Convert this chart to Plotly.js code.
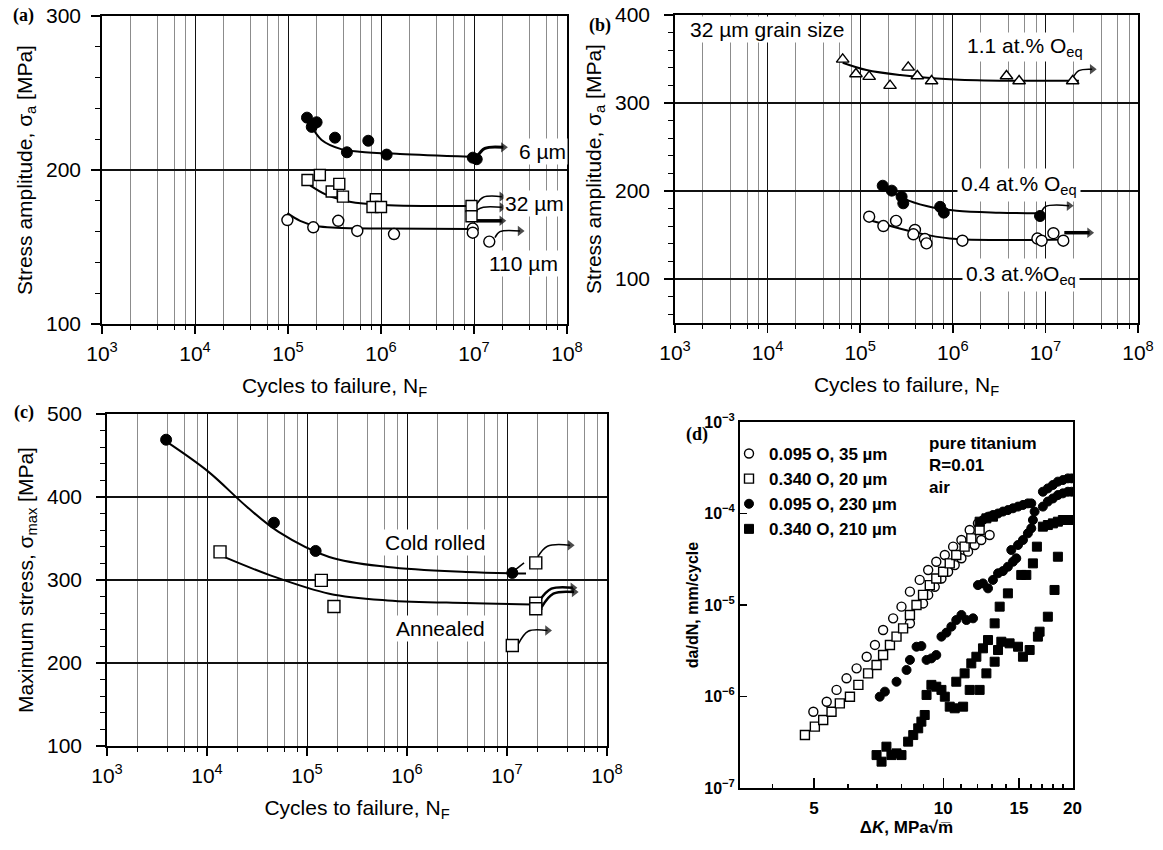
<!DOCTYPE html>
<html>
<head>
<meta charset="utf-8">
<script src="https://cdn.plot.ly/plotly-3.0.1.min.js"></script>
<style>html,body{margin:0;padding:0;background:#fff;}#chart{width:1163px;height:850px;}</style>
</head>
<body>
<div id="chart"></div>
<script>
// ---------- Panel (a): grain size ----------
const a6_N = [1.6e5, 2.03e5, 1.8e5, 3.2e5, 4.3e5, 7.3e5, 1.15e6, 9.7e6, 1.07e7];
const a6_S = [234, 231, 228, 221, 211.5, 219, 210, 208, 207];
const a6_fitN = [1.73e5, 2.3e5, 3.8e5, 5.9e5, 1.6e6, 9.06e6];
const a6_fitS = [230, 219.5, 213.4, 211.9, 210.4, 208.6];
const a32_N = [1.62e5, 2.2e5, 2.95e5, 3.56e5, 3.9e5, 8.8e5, 8.1e5, 1.0e6, 9.4e6, 9.4e6];
const a32_S = [193.5, 196.8, 186, 191, 182.7, 181, 176, 176, 176.6, 170];
const a32_fitN = [1.73e5, 2.6e5, 4.6e5, 1.06e6, 9.06e6];
const a32_fitS = [190, 183.8, 179.4, 177.3, 176.6];
const a110_N = [9.85e4, 1.87e5, 3.47e5, 5.56e5, 1.38e6, 9.7e6, 9.7e6, 1.46e7];
const a110_S = [167.5, 162.8, 167, 160.4, 158.4, 162, 159.3, 153.5];
const a110_fitN = [9.85e4, 1.35e5, 2.03e5, 3.3e5, 1.06e6, 9.06e6];
const a110_fitS = [172, 167, 163.6, 162.5, 162, 161.7];
// run-out arrows (a)
const a_arrows = [
  {N: [1.07e7, 1.31e7, 2.07e7], S: [208.2, 214, 214.7], w: 3},
  {N: [1.07e7, 1.26e7, 1.99e7], S: [177.9, 182.3, 182.7], w: 1.5},
  {N: [1.07e7, 1.26e7, 1.99e7], S: [174, 175.8, 175.8], w: 1.5},
  {N: [1.07e7, 1.99e7], S: [167, 167], w: 3.5},
  {N: [1.68e7, 1.9e7, 3.13e7], S: [156.1, 160, 160.4], w: 1.5}
];

// ---------- Panel (b): oxygen content, 32 um ----------
const b11_N = [6.47e4, 9.0e4, 1.25e5, 2.1e5, 3.3e5, 4.14e5, 5.9e5, 3.8e6, 5.2e6, 1.97e7];
const b11_S = [349.6, 333, 330, 319.7, 340.5, 330.7, 325, 330.7, 325, 325];
const b11_fitN = [6.47e4, 1.17e5, 2.7e5, 9.3e5, 3.2e6, 2.3e7];
const b11_fitS = [345.8, 337.5, 331.8, 327, 325.4, 325.4];
const b04_N = [1.75e5, 2.19e5, 2.8e5, 2.92e5, 7.3e5, 8.0e5, 8.75e6];
const b04_S = [206, 200.4, 193.5, 186, 182, 175.4, 171.6];
const b04_fitN = [1.78e5, 2.92e5, 5.2e5, 1.1e6, 3.2e6, 8.7e6];
const b04_fitS = [205, 191.7, 183, 177.6, 175.4, 174.6];
const b03_N = [1.25e5, 1.78e5, 2.44e5, 3.9e5, 3.75e5, 5.0e5, 5.2e5, 1.27e6, 8.2e6, 9.1e6, 1.22e7, 1.56e7];
const b03_S = [170.8, 160.2, 166, 155.7, 150.8, 145.5, 140.5, 143.5, 146, 143.5, 152, 143.5];
const b03_fitN = [1.25e5, 1.93e5, 4.07e5, 9.3e5, 3.2e6, 1.7e7];
const b03_fitS = [167, 161.4, 152.6, 146, 144.3, 145];
const b_arrows = [
  {N: [1.97e7, 2.3e7, 3.2e7], S: [328, 336.7, 338.3], w: 1.5},
  {N: [9.0e6, 1.0e7, 1.8e7], S: [175, 182.2, 183.3], w: 1.5},
  {N: [1.6e7, 3.0e7], S: [152.6, 152.6], w: 3.5}
];

// ---------- Panel (c): cold rolled vs annealed ----------
const cCR_N = [3.9e3, 4.67e4, 1.22e5, 1.13e7];
const cCR_S = [469, 369, 335, 308.5];
const cCR_fitN = [3.9e3, 1.03e4, 2.5e4, 5.2e4, 1.67e5, 6.4e5, 3.9e6, 1.55e7];
const cCR_fitS = [467, 430.6, 388.3, 358, 327.8, 315.7, 309.7, 307.7];
const cAN_N = [1.35e4, 1.39e5, 1.86e5, 1.94e7, 1.94e7, 1.94e7, 1.13e7];
const cAN_S = [333.9, 299.6, 268, 320.6, 272, 265.3, 221];
const cAN_fitN = [1.48e4, 4.3e4, 1.67e5, 6.4e5, 3.9e6, 1.78e7];
const cAN_fitS = [327.8, 305.6, 283.5, 275.4, 272.2, 270.6];
const c_arrows = [
  {N: [1.19e7, 1.48e7], S: [311.7, 320.6], w: 1.5, head: false},
  {N: [2.03e7, 2.54e7, 4.28e7], S: [327.8, 340.7, 341.9], w: 1.5},
  {N: [2.12e7, 2.78e7, 4.56e7], S: [275.4, 289.5, 290.7], w: 2.5},
  {N: [2.22e7, 2.91e7, 4.69e7], S: [267.3, 283.5, 285.5], w: 2.5},
  {N: [1.3e7, 1.63e7, 2.54e7], S: [223, 238.3, 239.1], w: 1.5}
];

// ---------- Panel (d): crack growth ----------
const d35_K = [4.98, 5.35, 5.64, 5.95, 6.28, 6.63, 6.93, 7.24, 7.64, 7.99, 8.36, 8.81, 9.22, 9.63, 10.08, 10.54, 11.02, 11.52, 12.04, 8.36, 8.97, 9.22, 9.55, 9.90, 10.26, 10.63, 11.02, 11.42, 11.83, 12.26, 12.82];
const d35_R = [6.82e-7, 8.77e-7, 1.18e-6, 1.58e-6, 2.03e-6, 2.72e-6, 3.66e-6, 5.33e-6, 7.15e-6, 9.59e-6, 1.40e-5, 1.88e-5, 2.41e-5, 2.97e-5, 3.52e-5, 4.34e-5, 5.13e-5, 6.61e-5, 7.80e-5, 6.31e-6, 1.04e-5, 1.29e-5, 1.58e-5, 1.95e-5, 2.31e-5, 2.73e-5, 3.24e-5, 3.83e-5, 4.53e-5, 5.13e-5, 5.82e-5];
const d20_K = [4.76, 5.02, 5.25, 5.49, 5.74, 6.06, 6.34, 6.68, 6.99, 7.24, 7.51, 7.78, 8.06, 8.36, 8.66, 8.97, 9.30, 9.63, 9.99, 10.35, 10.72, 11.21, 11.62, 12.15];
const d20_R = [3.79e-7, 4.68e-7, 5.53e-7, 6.82e-7, 8.41e-7, 9.95e-7, 1.34e-6, 1.79e-6, 2.21e-6, 2.84e-6, 3.66e-6, 4.51e-6, 5.56e-6, 7.78e-6, 1.00e-5, 1.29e-5, 1.65e-5, 1.95e-5, 2.31e-5, 2.85e-5, 3.52e-5, 4.34e-5, 5.35e-5, 6.61e-5];
const d230_K = [7.11, 7.31, 7.78, 8.21, 8.36, 8.66, 8.89, 9.14, 9.38, 9.63, 9.90, 10.17, 10.44, 10.72, 11.02, 11.32, 11.73, 12.04, 12.37, 12.71, 13.05, 13.41, 13.77, 14.14, 14.53, 14.79, 14.40, 14.93, 15.33, 15.74, 16.03, 16.17, 16.32, 16.03, 12.37, 12.71, 13.05, 13.41, 13.77, 14.14, 14.53, 14.93, 15.33, 15.74, 17.06, 17.52, 18.00, 18.49, 18.99, 19.51, 19.9, 17.06, 17.52, 18.00, 18.49, 18.99, 19.51, 19.9];
const d230_R = [9.95e-7, 1.13e-6, 1.45e-6, 1.95e-6, 2.51e-6, 3.50e-6, 3.56e-6, 2.51e-6, 2.61e-6, 2.84e-6, 4.51e-6, 4.99e-6, 5.80e-6, 6.85e-6, 7.78e-6, 6.85e-6, 7.15e-6, 1.65e-5, 1.72e-5, 1.52e-5, 1.88e-5, 2.22e-5, 2.35e-5, 2.62e-5, 2.97e-5, 3.24e-5, 3.99e-5, 4.53e-5, 5.13e-5, 6.07e-5, 6.89e-5, 8.49e-5, 1.05e-4, 1.29e-4, 8.49e-5, 9.23e-5, 9.62e-5, 1.00e-4, 1.05e-4, 1.09e-4, 1.14e-4, 1.19e-4, 1.24e-4, 1.29e-4, 1.73e-4, 1.88e-4, 2.05e-4, 2.23e-4, 2.32e-4, 2.42e-4, 2.42e-4, 1.19e-4, 1.35e-4, 1.46e-4, 1.59e-4, 1.66e-4, 1.73e-4, 1.73e-4];
const d210_K = [6.99, 7.18, 7.37, 7.57, 7.78, 7.99, 8.28, 8.51, 8.74, 8.89, 9.05, 9.14, 9.38, 9.63, 9.90, 10.08, 10.35, 10.63, 11.12, 10.72, 11.21, 11.62, 11.94, 12.37, 12.71, 13.17, 12.60, 12.15, 11.52, 13.41, 13.65, 14.27, 14.93, 15.33, 15.89, 16.61, 16.76, 17.52, 18.16, 18.49, 13.17, 13.53, 14.14, 15.19, 15.61, 16.17, 16.52, 12.15, 12.60, 13.05, 17.06, 17.52, 18.00, 18.49, 18.99, 19.51, 19.9];
const d210_R = [2.29e-7, 1.94e-7, 2.83e-7, 2.29e-7, 2.39e-7, 2.29e-7, 3.21e-7, 3.79e-7, 4.49e-7, 5.31e-7, 6.28e-7, 1.04e-6, 1.34e-6, 1.28e-6, 1.18e-6, 9.95e-7, 7.74e-7, 7.43e-7, 7.74e-7, 1.45e-6, 1.79e-6, 2.30e-6, 2.72e-6, 3.36e-6, 4.14e-6, 2.40e-6, 1.79e-6, 1.18e-6, 1.18e-6, 3.22e-6, 3.97e-6, 3.81e-6, 3.50e-6, 2.72e-6, 3.22e-6, 4.51e-6, 5.11e-6, 7.45e-6, 1.46e-5, 3.37e-5, 6.30e-6, 9.59e-6, 1.34e-5, 2.13e-5, 2.13e-5, 2.85e-5, 4.34e-5, 8.14e-5, 8.85e-5, 9.23e-5, 7.18e-5, 7.48e-5, 7.80e-5, 8.14e-5, 8.49e-5, 8.49e-5, 8.49e-5];
const dNames = ['0.095 O, 35 µm', '0.340 O, 20 µm', '0.095 O, 230 µm', '0.340 O, 210 µm'];

// tick labels
const decadeVals = [1e3, 1e4, 1e5, 1e6, 1e7, 1e8];
const decadeText = ['10<sup>3</sup>', '10<sup>4</sup>', '10<sup>5</sup>', '10<sup>6</sup>', '10<sup>7</sup>', '10<sup>8</sup>'];
const minorMult = [2, 4, 6, 8];
const dKVals = [5, 10, 15, 20];
const dKText = ['5', '10', '15', '20'];
const dKMinor = [4, 6, 7, 8, 9, 11, 12, 13, 14, 16, 17, 18, 19];
const rateVals = [1e-7, 1e-6, 1e-5, 1e-4, 1e-3];
const rateText = ['10<sup>−7</sup>', '10<sup>−6</sup>', '10<sup>−5</sup>', '10<sup>−4</sup>', '10<sup>−3</sup>'];

// ---------- build ----------
const FONT = 'Liberation Sans, Arial, Helvetica, sans-serif';
const SERIF = 'Liberation Serif, Times New Roman, serif';
const W = 1163, H = 850;
const px = (a, b) => [a / W, b / W];
const py = (top, bot) => [1 - bot / H, 1 - top / H];

const minorN = [];
for (let e = 3; e < 8; e++) minorMult.forEach(m => minorN.push(m * Math.pow(10, e)));

const openM = (sym, size) => ({symbol: sym, size: size, color: '#fff', line: {color: '#000', width: 1.4}});
const fillM = (sym, size) => ({symbol: sym, size: size, color: '#000', line: {color: '#000', width: 1}});

const traces = [];
function fit(x, y, xa, ya) {
  traces.push({x, y, xaxis: xa, yaxis: ya, mode: 'lines', line: {color: '#000', width: 2, shape: 'spline', smoothing: 1}, showlegend: false, hoverinfo: 'skip'});
}
function pts(x, y, xa, ya, marker, name, show) {
  traces.push({x, y, xaxis: xa, yaxis: ya, mode: 'markers', marker, name: name || '', showlegend: !!show, cliponaxis: true});
}
function arrows(list, xa, ya) {
  list.forEach(a => {
    traces.push({x: a.N, y: a.S, xaxis: xa, yaxis: ya, mode: 'lines+markers',
      line: {color: '#000', width: a.w, shape: 'spline'},
      marker: {symbol: 'triangle-right', color: '#000', size: a.N.map((_, i) => (i === a.N.length - 1 && a.head !== false) ? 9 : 0), line: {width: 0}},
      showlegend: false, hoverinfo: 'skip', cliponaxis: false});
  });
}

// (a)
fit(a6_fitN, a6_fitS, 'x', 'y'); fit(a32_fitN, a32_fitS, 'x', 'y'); fit(a110_fitN, a110_fitS, 'x', 'y');
arrows(a_arrows, 'x', 'y');
pts(a6_N, a6_S, 'x', 'y', fillM('circle', 11), '6 µm');
pts(a32_N, a32_S, 'x', 'y', openM('square', 11), '32 µm');
pts(a110_N, a110_S, 'x', 'y', openM('circle', 11), '110 µm');
// (b)
fit(b11_fitN, b11_fitS, 'x2', 'y2'); fit(b04_fitN, b04_fitS, 'x2', 'y2'); fit(b03_fitN, b03_fitS, 'x2', 'y2');
arrows(b_arrows, 'x2', 'y2');
pts(b11_N, b11_S, 'x2', 'y2', openM('triangle-up', 11), '1.1 at.% O');
pts(b04_N, b04_S, 'x2', 'y2', fillM('circle', 11), '0.4 at.% O');
pts(b03_N, b03_S, 'x2', 'y2', openM('circle', 11), '0.3 at.% O');
// (c)
fit(cCR_fitN, cCR_fitS, 'x3', 'y3'); fit(cAN_fitN, cAN_fitS, 'x3', 'y3');
arrows(c_arrows, 'x3', 'y3');
pts(cCR_N, cCR_S, 'x3', 'y3', fillM('circle', 11), 'Cold rolled');
pts(cAN_N, cAN_S, 'x3', 'y3', openM('square', 12), 'Annealed');
// (d)
pts(d35_K, d35_R, 'x4', 'y4', openM('circle', 9), dNames[0], true);
pts(d20_K, d20_R, 'x4', 'y4', openM('square', 9), dNames[1], true);
pts(d230_K, d230_R, 'x4', 'y4', fillM('circle', 9), dNames[2], true);
pts(d210_K, d210_R, 'x4', 'y4', fillM('square', 9), dNames[3], true);

const tickFont = {family: FONT, size: 21, color: '#000'};
const titleFont = {family: FONT, size: 21, color: '#000'};

function logAxis(domain, anchor, titleText) {
  return {
    type: 'log', range: [3, 8], domain, anchor,
    tickmode: 'array', tickvals: decadeVals, ticktext: decadeText,
    ticks: 'outside', ticklen: 8, tickwidth: 1.5, tickcolor: '#000',
    showline: true, mirror: true, linecolor: '#000', linewidth: 1.8,
    showgrid: true, gridcolor: '#111', gridwidth: 1, zeroline: false,
    minor: {tickmode: 'array', tickvals: minorN, ticks: 'outside', ticklen: 4, tickcolor: '#000', tickwidth: 1, showgrid: true, gridcolor: '#8c8c8c', gridwidth: 1},
    tickfont: tickFont, ticklabelstandoff: 2,
    title: {text: titleText, font: titleFont, standoff: 14}
  };
}
function linAxis(domain, anchor, range, titleText, standoff, lstand) {
  return {
    range, domain, anchor, tick0: 0, dtick: 100,
    ticks: 'outside', ticklen: 9, tickwidth: 1.5, tickcolor: '#000',
    showline: true, mirror: true, linecolor: '#000', linewidth: 1.8,
    showgrid: true, gridcolor: '#111', gridwidth: 1.2, zeroline: false,
    minor: {dtick: 20, ticks: 'outside', ticklen: 5, tickcolor: '#000', tickwidth: 1, showgrid: false},
    tickfont: tickFont, ticklabelstandoff: lstand,
    title: {text: titleText, font: titleFont, standoff}
  };
}

const annots = [];
function lab(text, xref, yref, N, S, opts) {
  annots.push(Object.assign({text, xref, yref, x: Math.log10(N), y: S, showarrow: false,
    font: {family: FONT, size: 21, color: '#000'}, xanchor: 'left', yanchor: 'middle',
    bgcolor: '#fff', borderpad: 1}, opts || {}));
}
// (a) labels
lab('6 µm', 'x', 'y', 2.9e7, 211.7);
lab('32 µm', 'x', 'y', 2.05e7, 178.4);
lab('110 µm', 'x', 'y', 1.38e7, 139.4);
// (b) labels
lab('32 µm grain size', 'x2', 'y2', 1.38e3, 383);
lab('1.1 at.% O<sub>eq</sub>', 'x2', 'y2', 1.36e6, 363.6);
lab('0.4 at.% O<sub>eq</sub>', 'x2', 'y2', 1.11e6, 206.8, {borderpad: 3});
lab('0.3 at.%O<sub>eq</sub>', 'x2', 'y2', 1.26e6, 104.5, {borderpad: 3});
// (c) labels
lab('Cold rolled', 'x3', 'y3', 1.92e6, 344.8, {xanchor: 'center'});
lab('Annealed', 'x3', 'y3', 2.15e6, 241, {xanchor: 'center'});
// (d) note
annots.push({text: 'pure titanium<br>R=0.01<br>air', xref: 'paper', yref: 'paper', x: 927 / W, y: 1 - 432 / H,
  xanchor: 'left', yanchor: 'top', align: 'left', showarrow: false,
  font: {family: FONT, size: 17, color: '#000', weight: 'bold'}});
// panel letters
[['(a)', 23, 16], ['(b)', 600, 25], ['(c)', 24, 413], ['(d)', 697, 435]].forEach(p => {
  annots.push({text: p[0], xref: 'paper', yref: 'paper', x: p[1] / W, y: 1 - p[2] / H, xanchor: 'center', yanchor: 'middle',
    showarrow: false, font: {family: SERIF, size: 18, color: '#000', weight: 'bold'}});
});

const boldFont = (s) => ({family: FONT, size: s, color: '#000', weight: 'bold'});

const layout = {
  width: W, height: H, autosize: false,
  margin: {l: 0, r: 0, t: 0, b: 0, pad: 0},
  paper_bgcolor: '#fff', plot_bgcolor: '#fff',
  font: {family: FONT, color: '#000'},
  xaxis: logAxis(px(102, 567), 'y', 'Cycles to failure, N<sub>F</sub>'),
  yaxis: linAxis(py(16, 324), 'x', [100, 300], 'Stress amplitude, σ<sub>a</sub> [MPa]', 8, 6),
  xaxis2: logAxis(px(675, 1138), 'y2', 'Cycles to failure, N<sub>F</sub>'),
  yaxis2: linAxis(py(15, 323), 'x2', [50, 400], 'Stress amplitude, σ<sub>a</sub> [MPa]', 8, 10),
  xaxis3: logAxis(px(107, 607), 'y3', 'Cycles to failure, N<sub>F</sub>'),
  yaxis3: linAxis(py(414, 746), 'x3', [100, 500], 'Maximum stress, σ<sub>max</sub> [MPa]', 8, 10),
  xaxis4: {
    type: 'log', range: [Math.log10(3.36), Math.log10(20.05)], domain: px(740, 1073), anchor: 'y4',
    tickmode: 'array', tickvals: dKVals, ticktext: dKText,
    ticks: 'inside', ticklen: 10, tickwidth: 1.5, tickcolor: '#000',
    minor: {tickmode: 'array', tickvals: dKMinor, ticks: 'inside', ticklen: 4, tickcolor: '#000', showgrid: false},
    showline: true, mirror: true, linecolor: '#000', linewidth: 2, showgrid: false, zeroline: false,
    tickfont: boldFont(17), ticklabelstandoff: 4,
    title: {text: 'Δ<i>K</i>, MPa√m̅', font: boldFont(17), standoff: 4}
  },
  yaxis4: {
    type: 'log', range: [-7, -3], domain: py(422, 788), anchor: 'x4',
    tickmode: 'array', tickvals: rateVals, ticktext: rateText,
    ticks: 'inside', ticklen: 7, tickwidth: 1.5, tickcolor: '#000',
    showline: true, mirror: true, linecolor: '#000', linewidth: 2, showgrid: false, zeroline: false,
    tickfont: boldFont(16),
    title: {text: 'da/dN, mm/cycle', font: boldFont(16), standoff: 2}
  },
  showlegend: true,
  legend: {x: 729 / W, y: 1 - 436 / H, xanchor: 'left', yanchor: 'top', bgcolor: 'rgba(0,0,0,0)',
    font: boldFont(17), tracegroupgap: 0, itemwidth: 30, borderwidth: 0},
  annotations: annots
};

Plotly.newPlot('chart', traces, layout, {staticPlot: true, displayModeBar: false});
</script>
</body>
</html>
